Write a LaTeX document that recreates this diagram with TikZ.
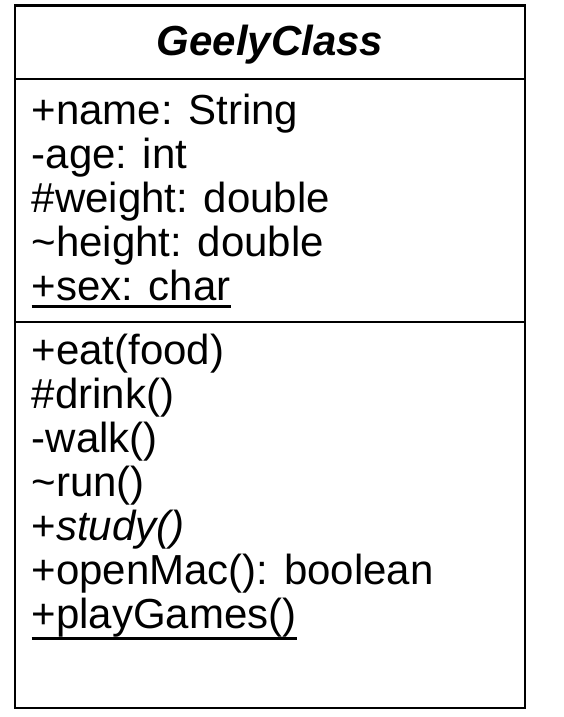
\documentclass[tikz,border=0pt]{standalone}
\usepackage{fontspec}
\setmainfont{Liberation Sans}
\usetikzlibrary{calc}

\tikzset{
  member/.style={anchor=base west,inner sep=0pt,font=\fontsize{42}{44}\selectfont},
  classname/.style={anchor=base,inner sep=0pt,font=\fontsize{42}{44}\selectfont\bfseries\itshape},
  frame/.style={line width=2.4pt},
  uline/.style={line width=2.2pt},
}

\begin{document}
\begin{tikzpicture}[x=1pt,y=-1pt]
      \useasboundingbox (0,0) rectangle (564,717);
      \draw[frame] (15,5.5) rectangle (525,708);
      \draw[frame] (15,79) -- (525,79);
      \draw[frame] (15,322) -- (525,322);
      \node[classname] (title) at (270,56) {GeelyClass};
      % attributes
      \node[member] (name) at (31.5,124) {+name: String};
      \node[member] (age) at (31.5,168) {-age: int};
      \node[member] (weight) at (31.5,212) {\#weight: double};
      \node[member] (height) at (31.5,256) {\textasciitilde height: double};
      \node[member] (sex) at (31.5,300) {+sex: char};
      \draw[uline] ([yshift=-6.5pt]sex.base west) -- ([yshift=-6.5pt]sex.base east);
      % operations
      \node[member] (eat) at (31.5,364) {+eat(food)};
      \node[member] (drink) at (31.5,408) {\#drink()};
      \node[member] (walk) at (31.5,452) {-walk()};
      \node[member] (run) at (31.5,496) {\textasciitilde run()};
      \node[member] (study) at (31.5,540) {+\textit{study()}};
      \node[member] (openmac) at (31.5,584) {+openMac(): boolean};
      \node[member] (playgames) at (31.5,628) {+playGames()};
      \draw[uline] ([yshift=-10.5pt]playgames.base west) -- ([yshift=-10.5pt]playgames.base east);
    \end{tikzpicture}
\end{document}
